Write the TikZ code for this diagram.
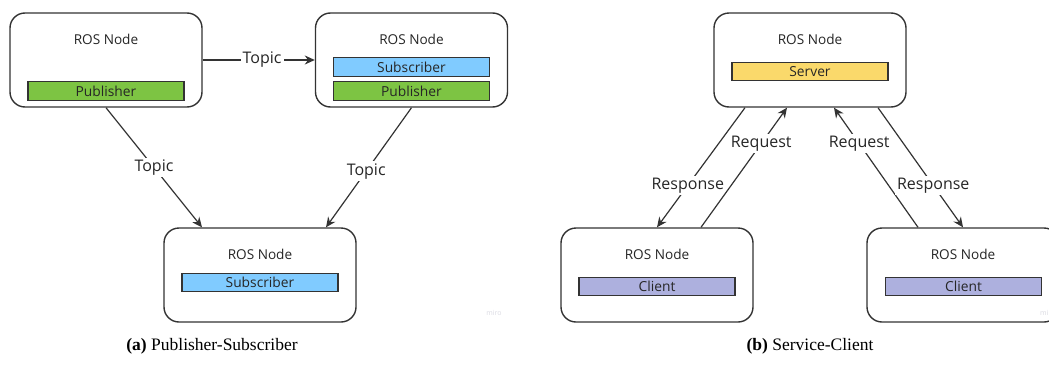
\documentclass[tikz,border=0pt]{standalone}
\usepackage{fontspec}
\setmainfont{Liberation Serif}
\newfontfamily\osans{Open Sans}
\usetikzlibrary{arrows.meta,calc}
\definecolor{edge}{HTML}{333333}
\definecolor{pubgreen}{HTML}{7DC443}
\definecolor{subblue}{HTML}{80CBFF}
\definecolor{srvyellow}{HTML}{FAD96B}
\definecolor{clipurple}{HTML}{ADB0DE}
\definecolor{wm}{HTML}{DADAE2}
\tikzset{
  rosbox/.style={draw=edge, line width=1.4pt, rounded corners=15pt, minimum width=192pt, minimum height=94pt, inner sep=0pt, fill=white},
  bar/.style={draw=edge, line width=1.1pt, minimum width=156pt, minimum height=18.5pt, inner sep=0pt, font=\osans\fontsize{13.8}{15}\selectfont, text=black!85},
  title/.style={font=\osans\fontsize{13.6}{15}\selectfont, text=black!85},
  conn/.style={draw=edge, line width=1.2pt, -{Stealth[length=10pt,width=9pt]}},
  lab/.style={fill=white, inner sep=2pt, font=\osans\fontsize{16}{18}\selectfont, text=black!85},
  capt/.style={font=\fontsize{17.5}{20}\selectfont}
}
\begin{document}
\begin{tikzpicture}[x=1pt,y=-1pt]
\useasboundingbox (0,0) rectangle (1049,367);
\clip (0,0) rectangle (1049,367);
% boxes
\node[rosbox] (A) at (106,60) {};
\node[rosbox] (B) at (411.5,60) {};
\node[rosbox] (C) at (260,275) {};
\node[rosbox] (D) at (810,60) {};
\node[rosbox] (E) at (657,275) {};
\node[rosbox] (F) at (963,275) {};
% titles
\node[title] (At) at (106,39) {ROS Node};
\node[title] (Bt) at (411.5,39) {ROS Node};
\node[title] (Ct) at (260,254) {ROS Node};
\node[title] (Dt) at (810,39) {ROS Node};
\node[title] (Et) at (657,254) {ROS Node};
\node[title] (Ft) at (963,254) {ROS Node};
% bars
\node[bar, fill=pubgreen] (Apub) at (106,91) {Publisher};
\node[bar, fill=subblue] (Bsub) at (411.5,67) {Subscriber};
\node[bar, fill=pubgreen] (Bpub) at (411.5,91) {Publisher};
\node[bar, fill=subblue] (Csub) at (260,282.5) {Subscriber};
\node[bar, fill=srvyellow] (Dsrv) at (810,71.5) {Server};
\node[bar, fill=clipurple] (Ecli) at (657,286.5) {Client};
\node[bar, fill=clipurple] (Fcli) at (963.5,286.5) {Client};
% connectors left panel
\draw[conn] (A.east) -- node[lab, pos=0.53] (l1) {Topic} (B.west);
\draw[conn] (A.south) -- node[lab, pos=0.5] (l2) {Topic} ([xshift=-58pt]C.north);
\draw[conn] (B.south) -- node[lab, pos=0.53] (l3) {Topic} ([xshift=66pt]C.north);
% connectors right panel
\draw[conn] ([xshift=-65pt]D.south) -- node[lab, pos=0.65] (l4) {Response} (E.north);
\draw[conn] ([xshift=44pt]E.north) -- node[lab, pos=0.7] (l5) {Request} ([xshift=-23pt]D.south);
\draw[conn] ([xshift=-45pt]F.north) -- node[lab, pos=0.7] (l6) {Request} ([xshift=24pt]D.south);
\draw[conn] ([xshift=68pt]D.south) -- node[lab, pos=0.65] (l7) {Response} (F.north);
% watermarks
\node[font=\osans\fontsize{7}{8}\selectfont, text=wm] (w1) at (494,313) {miro};
\node[font=\osans\fontsize{7}{8}\selectfont, text=wm, anchor=east, inner sep=0pt] (w2) at (1048.5,313) {mi};
% captions
\node[capt] (ca) at (212,346) {\textbf{(a)} Publisher-Subscriber};
\node[capt] (cb) at (810,346) {\textbf{(b)} Service-Client};
\end{tikzpicture}
\end{document}
